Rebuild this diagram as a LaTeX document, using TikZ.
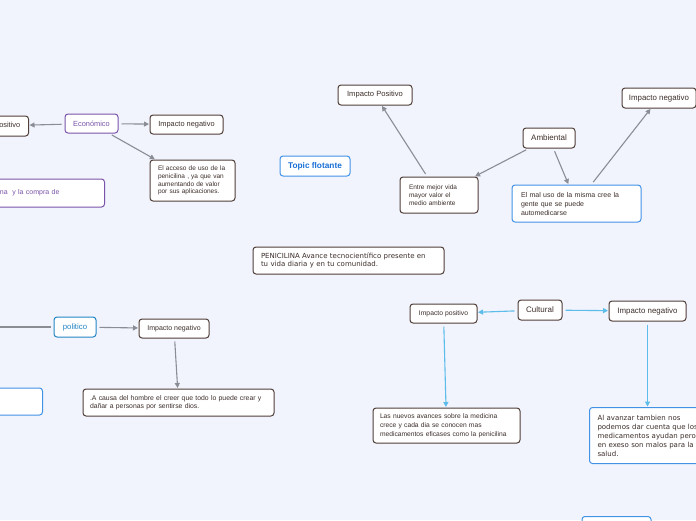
\documentclass[tikz,border=0pt]{standalone}
\usepackage{fontspec}
\setmainfont{Liberation Sans}
\newfontfamily\verdfont{DejaVu Sans}
\usepackage{tikz}
\usetikzlibrary{arrows.meta, positioning}
\definecolor{mmbg}{RGB}{241, 244, 253}
\definecolor{mmbrown}{RGB}{80, 62, 56}
\definecolor{mmtext}{RGB}{60, 46, 42}
\definecolor{mmgray}{RGB}{138, 141, 148}
\definecolor{mmblue}{RGB}{66, 146, 230}
\definecolor{mmtopic}{RGB}{24, 112, 214}
\definecolor{mmpurple}{RGB}{122, 84, 168}
\definecolor{mmteal}{RGB}{34, 134, 196}
\definecolor{mmcyan}{RGB}{92, 188, 234}

\begin{document}
\begin{tikzpicture}[x=1pt, y=-1pt,
    box/.style={rectangle, rounded corners=3pt, draw=#1, fill=white, line width=1pt,
        inner sep=0pt, align=center, text=mmtext, font=\fontsize{7.4}{8.8}\selectfont},
    box/.default=mmbrown,
    note/.style={box=#1, align=left, inner xsep=8pt, font=\fontsize{6.5}{7.8}\selectfont},
    note/.default=mmbrown,
    arr/.style={-{Triangle[length=5pt, width=5pt]}, line width=1.1pt, mmgray,
        shorten <=3pt, shorten >=0.5pt},
    carr/.style={arr, mmcyan}
]

% Canvas
\useasboundingbox (0,0) rectangle (696,520);
\fill[mmbg] (0,0) rectangle (696,520);
\clip (0,0) rectangle (696,520);

% Economico branch
\node[box, minimum width=70pt, minimum height=20pt, anchor=east] (pos1) at (29,126) {Impacto positivo};
\node[box=mmpurple, text=mmpurple, minimum width=53pt, minimum height=19pt] (econ) at (91.5,123.5) {Económico};
\node[box, minimum width=73pt, minimum height=19pt] (neg1) at (186.5,124.5) {Impacto negativo};
\node[note, text width=69pt, minimum height=41pt] (acceso) at (192.5,180.5)
    {El acceso de uso de la\\penicilina , ya que van\\aumentando de valor\\por sus aplicaciones.};
\node[note=mmpurple, text=mmpurple, text width=118pt, minimum height=28pt, anchor=east,
    font=\fontsize{7}{8.4}\selectfont] (compra) at (105,193)
    {penicilina \ y la compra de};

\draw[arr] (econ) -- (pos1);
\draw[arr] (econ) -- (neg1);
\draw[arr] (econ) -- (acceso);

% Ambiental branch
\node[box, minimum width=74pt, minimum height=20pt, font=\fontsize{7.6}{9}\selectfont] (ipos2) at (375,95) {Impacto Positivo};
\node[box=mmblue, text=mmtopic, minimum width=70pt, minimum height=20pt,
    font=\fontsize{8.3}{9.6}\selectfont\bfseries] (flotante) at (315,166) {Topic flotante};
\node[box, minimum width=52pt, minimum height=20pt, font=\fontsize{8}{9.4}\selectfont] (ambiental) at (549,138) {Ambiental};
\node[box, minimum width=74pt, minimum height=20pt, font=\fontsize{7.9}{9.2}\selectfont] (neg2) at (659,98) {Impacto negativo};
\node[note, inner xsep=9pt, text width=60pt, minimum height=36pt] (entre) at (439,195)
    {Entre mejor vida\\mayor valor el\\medio ambiente};
\node[note=mmblue, inner xsep=9pt, text width=111pt, minimum height=37pt,
    font=\fontsize{7}{9}\selectfont] (maluso) at (576.5,203.5)
    {El mal uso de la misma cree la\\gente que se puede\\automedicarse};

\draw[arr] (ambiental) -- (entre);
\draw[arr] (ambiental) -- (maluso);
\draw[arr] (entre) -- (ipos2);
\draw[arr] (maluso) -- (neg2);

% Central topic
\node[note, text width=175pt, minimum height=27pt, font=\verdfont\fontsize{7}{8.4}\selectfont] (central) at (348.5,260.5)
    {PENICILINA Avance tecnocientífico presente en\\tu vida diaria y en tu comunidad.};

% Politico branch
\coordinate (polparent) at (-40,327);
\node[box=mmteal, text=mmteal, minimum width=42pt, minimum height=20pt,
    font=\fontsize{7.8}{9}\selectfont] (politico) at (75,327) {politico};
\node[box, minimum width=70pt, minimum height=19pt, font=\fontsize{7}{8.4}\selectfont] (neg3) at (174,328.5) {Impacto negativo};
\node[note, inner xsep=7pt, text width=177pt, minimum height=27pt,
    font=\fontsize{6.85}{8.4}\selectfont] (causa) at (178.5,402.5)
    {.A causa del hombre el creer que todo lo puede crear y\\dañar a personas por sentirse dios.};
\node[box=mmblue, minimum width=100pt, minimum height=27pt, anchor=east] (bluel) at (43,401.5) {};

\draw[mmgray, line width=1.1pt, shorten >=3pt] (polparent) -- (politico);
\draw[arr] (politico) -- (neg3);
\draw[arr] (neg3) -- (causa);

% Cultural branch
\node[box, minimum width=44pt, minimum height=20pt, font=\fontsize{8}{9.4}\selectfont] (cultural) at (540,310) {Cultural};
\node[box, minimum width=67pt, minimum height=19pt, font=\fontsize{6.8}{8}\selectfont] (ipos3) at (443.5,313.5) {Impacto positivo};
\node[box, minimum width=77pt, minimum height=20pt, font=\fontsize{7.9}{9.2}\selectfont] (neg4) at (647.5,311) {Impacto negativo};
\node[note, inner xsep=7pt, text width=133pt, minimum height=35pt, font=\fontsize{6.7}{9}\selectfont] (nuevos) at (446.5,425.5)
    {Las nuevos avances sobre la medicina\\crece y cada dia se conocen mas\\medicamentos eficases como la penicilina};
\node[note=mmblue, text width=126pt, minimum height=56pt, anchor=north west,
    font=\verdfont\fontsize{7}{9}\selectfont] (avanzar) at (589,407)
    {Al avanzar tambien nos\\podemos dar cuenta que los\\medicamentos ayudan pero\\en exeso son malos para la\\salud.};
\node[box=mmblue, minimum width=69pt, minimum height=20pt, anchor=north] (bluebot) at (616.5,516) {};

\draw[carr] (cultural) -- (ipos3);
\draw[carr] (cultural) -- (neg4);
\draw[carr] (ipos3) -- (nuevos);
\draw[carr] (neg4) -- (neg4 |- avanzar.north);

\end{tikzpicture}
\end{document}
